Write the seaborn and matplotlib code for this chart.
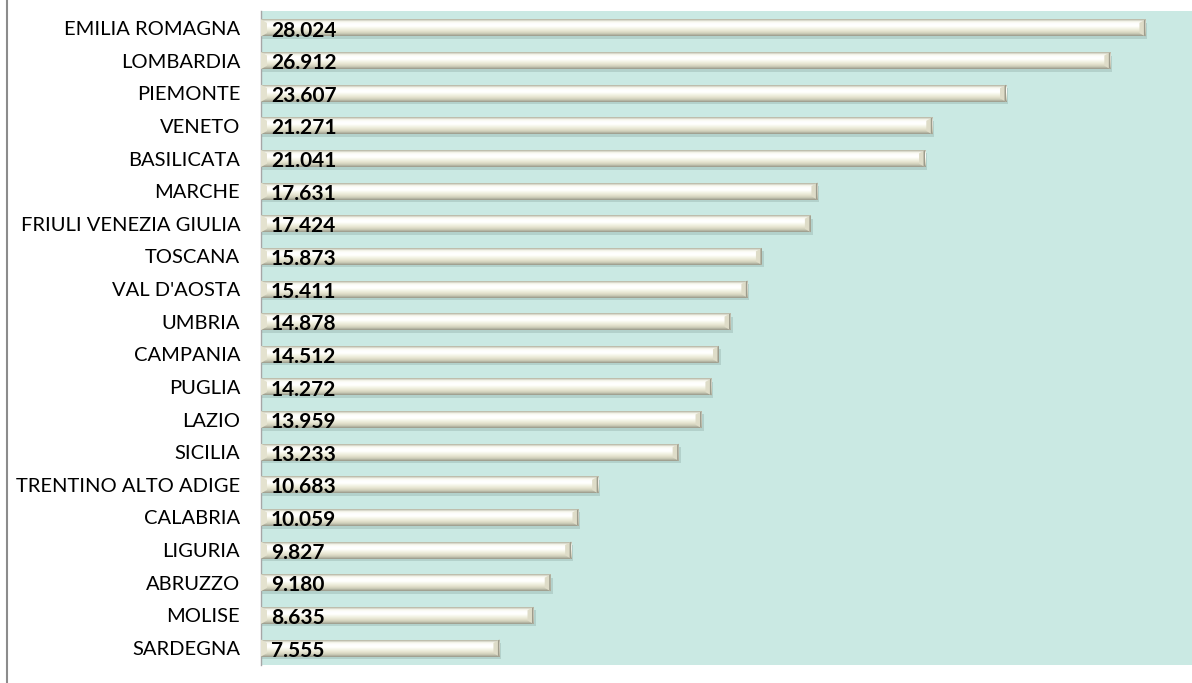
import numpy as np
import pandas as pd
import matplotlib
matplotlib.use("Agg")
import matplotlib.pyplot as plt
import seaborn as sns
from matplotlib.patches import Rectangle, Polygon

regions = ["EMILIA ROMAGNA", "LOMBARDIA", "PIEMONTE", "VENETO", "BASILICATA",
           "MARCHE", "FRIULI VENEZIA GIULIA", "TOSCANA", "VAL D'AOSTA", "UMBRIA",
           "CAMPANIA", "PUGLIA", "LAZIO", "SICILIA", "TRENTINO ALTO ADIGE",
           "CALABRIA", "LIGURIA", "ABRUZZO", "MOLISE", "SARDEGNA"]
values = [28.024, 26.912, 23.607, 21.271, 21.041,
          17.631, 17.424, 15.873, 15.411, 14.878,
          14.512, 14.272, 13.959, 13.233, 10.683,
          10.059, 9.827, 9.180, 8.635, 7.555]

df = pd.DataFrame({"regione": regions, "valore": values})

sns.set_theme(style="white")
plt.rcParams['font.family'] = ['Lato', 'DejaVu Sans']

fig = plt.figure(figsize=(11.92, 6.83), dpi=100)
ax = fig.add_axes([261/1192, 1 - 665/683, 1 - 261/1192, (665 - 11)/683])
ax.set_facecolor("#cae9e3")

bar_h = 0.52
sns.barplot(data=df, x="valore", y="regione", orient="h", ax=ax,
            color="#e8e6d2", width=bar_h, saturation=1, zorder=3)

# vertical gradient for the cylinder look
grad_colors = np.array([
    [0.70, 0.70, 0.63],
    [0.97, 0.97, 0.93],
    [1.00, 1.00, 1.00],
    [1.00, 1.00, 0.99],
    [0.95, 0.95, 0.89],
    [0.90, 0.89, 0.81],
    [0.80, 0.80, 0.72],
    [0.60, 0.60, 0.54],
])
pos = np.linspace(0, 1, len(grad_colors))
t = np.linspace(0, 1, 64)
grad = np.stack([np.interp(t, pos, grad_colors[:, c]) for c in range(3)], axis=-1)
grad_img = grad[:, None, :]

px_x = 29.5 / (1192 - 261)
for p in list(ax.patches):
    x0, y0 = p.get_x(), p.get_y()
    w, h = p.get_width(), p.get_height()
    # shadow
    sh = Rectangle((x0, y0 + h * 0.2), w + 2 * px_x, h * 0.95,
                   facecolor="#7f9a94", alpha=0.30, edgecolor="none", zorder=2)
    ax.add_patch(sh)
    p.set_facecolor("none")
    p.set_edgecolor("none")
    im = ax.imshow(grad_img, extent=(x0, x0 + w, y0 + h, y0), aspect="auto",
                   zorder=4, interpolation="bilinear")
    im.set_clip_path(p)
    # beveled right end
    bw = 6 * px_x
    bev = Polygon([(x0 + w - bw, y0 + h * 0.2), (x0 + w, y0),
                   (x0 + w, y0 + h), (x0 + w - bw, y0 + h * 0.8)],
                  closed=True, facecolor="#dedcc8", edgecolor="none", zorder=5)
    ax.add_patch(bev)
    edge = Polygon([(x0 + w - 1.5 * px_x, y0 + h * 0.05), (x0 + w, y0),
                    (x0 + w, y0 + h), (x0 + w - 1.5 * px_x, y0 + h * 0.95)],
                   closed=True, facecolor="#9d9c8c", edgecolor="none", zorder=6)
    ax.add_patch(edge)
    # left bevel
    lb = Polygon([(x0, y0), (x0 + bw, y0 + h * 0.2), (x0 + bw, y0 + h * 0.8), (x0, y0 + h)],
                 closed=True, facecolor="#e4e2cf", edgecolor="none", zorder=5)
    ax.add_patch(lb)

for i, v in enumerate(values):
    ax.text(10 * px_x, i + 0.08, f"{v:.3f}", ha="left", va="center",
            fontsize=15, fontweight="bold", color="black", zorder=7)

ax.set_xlim(0, 29.5)
ax.set_ylim(len(regions) - 0.48, -0.52)
ax.set_xlabel("")
ax.set_ylabel("")
ax.set_xticks([])
ax.tick_params(axis="y", length=0, pad=15, labelsize=14.5, colors="black")
for s in ["top", "right", "bottom"]:
    ax.spines[s].set_visible(False)
ax.spines["left"].set_color("#a6a6a6")
ax.spines["left"].set_linewidth(1)

# left border line of the chart area
fig.add_artist(plt.Line2D([7.5/1192, 7.5/1192], [0, 1], color="#8c8c8c", lw=1.5,
                          transform=fig.transFigure))

fig.savefig("out.png", dpi=100, facecolor="white")
